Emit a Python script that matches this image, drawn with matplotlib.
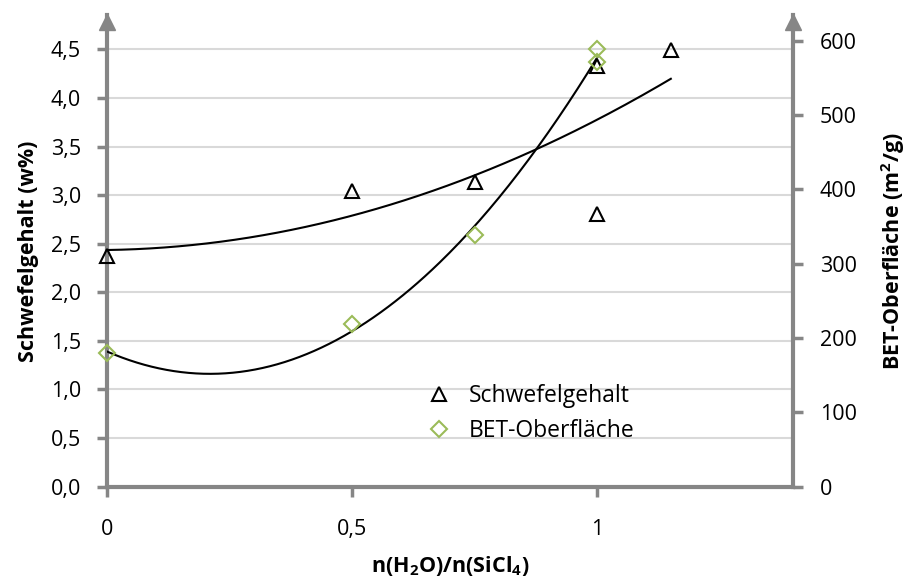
import numpy as np
import matplotlib
matplotlib.use("Agg")
from matplotlib import pyplot as plt
from matplotlib.ticker import FuncFormatter

plt.rcParams['font.family'] = ['Open Sans', 'DejaVu Sans']
plt.rcParams['mathtext.fontset'] = 'custom'
plt.rcParams['mathtext.rm'] = 'Open Sans'
plt.rcParams['mathtext.bf'] = 'Open Sans:bold'

# data
x_schwefel = [0, 0.5, 0.75, 1, 1, 1.15]
schwefel = [2.37, 3.04, 3.14, 2.81, 4.33, 4.49]
x_bet = [0, 0.5, 0.75, 1, 1]
bet = [180, 219, 338, 589, 571]

AXIS = '#868686'
GRID = '#d9d9d9'
GREEN = '#9bbb59'
FS = 15.5

fig = plt.figure(figsize=(9.05, 5.8), dpi=100)
ax = fig.add_axes([0.1186, 0.1609, 0.758, 0.8127])
ax2 = ax.twinx()

# trendlines (2nd order polynomial, like Excel)
p1 = np.polyfit(x_schwefel, schwefel, 2)
xs1 = np.linspace(0, max(x_schwefel), 200)
ax.plot(xs1, np.polyval(p1, xs1), color='black', lw=1.5, zorder=3)
p2 = np.polyfit(x_bet, bet, 2)
xs2 = np.linspace(0, max(x_bet), 200)
ax2.plot(xs2, np.polyval(p2, xs2), color='black', lw=1.5, zorder=3)

ax.plot(x_schwefel, schwefel, ls='none', marker='^', ms=10, mfc='none',
        mec='black', mew=1.5, label='Schwefelgehalt', clip_on=False, zorder=4)
ax2.plot(x_bet, bet, ls='none', marker='D', ms=8.5, mfc='none',
         mec=GREEN, mew=1.5, label='BET-Oberfläche', clip_on=False, zorder=4)

ax.set_xlim(0, 1.4)
ax.set_ylim(0, 4.85)
ax2.set_ylim(0, 634)
ax.set_xticks([0, 0.5, 1])
ax.set_yticks(np.arange(0, 4.51, 0.5))
ax2.set_yticks(np.arange(0, 601, 100))
comma = lambda v, pos: ('%g' % v).replace('.', ',')
ax.xaxis.set_major_formatter(FuncFormatter(comma))
ax.yaxis.set_major_formatter(FuncFormatter(lambda v, pos: ('%.1f' % v).replace('.', ',')))

ax.grid(axis='y', color=GRID, lw=1.5)
ax.set_axisbelow(True)

for a in (ax, ax2):
    for s in a.spines.values():
        s.set_visible(False)
ax.spines['left'].set_visible(True)
ax.spines['bottom'].set_visible(True)
ax2.spines['right'].set_visible(True)
for s in (ax.spines['left'], ax.spines['bottom'], ax2.spines['right']):
    s.set_color(AXIS)
    s.set_linewidth(3)

ax.tick_params(axis='y', direction='out', length=7, width=2.5, color=AXIS,
               labelsize=FS, pad=12)
ax.tick_params(axis='x', direction='out', length=7, width=2.5, color=AXIS,
               labelsize=FS, pad=16)
ax2.tick_params(axis='y', direction='out', length=7, width=2.5, color=AXIS,
                labelsize=FS, pad=12)

# arrow heads at top of the y axes
ax.plot(0, 0.985, marker='^', ms=11, color=AXIS, transform=ax.transAxes, clip_on=False)
ax.plot(1, 0.985, marker='^', ms=11, color=AXIS, transform=ax.transAxes, clip_on=False)

ax.set_ylabel('Schwefelgehalt (w%)', fontsize=FS, fontweight='bold', labelpad=8)
ax2.set_ylabel(r'BET-Oberfläche (m$^\mathbf{2}$/g)', fontsize=FS, fontweight='bold', labelpad=16)
ax.set_xlabel(r'n(H$_\mathbf{2}$O)/n(SiCl$_\mathbf{4}$)', fontsize=FS, fontweight='bold', labelpad=10)

h1, l1 = ax.get_legend_handles_labels()
h2, l2 = ax2.get_legend_handles_labels()
fig.legend(h1 + h2, l1 + l2, loc='upper left', bbox_to_anchor=(414 / 905, 1 - 373 / 580),
           frameon=False, fontsize=16.5, handlelength=1.2, handletextpad=0.7,
           labelspacing=0.45, borderpad=0)

fig.savefig('out.png', dpi=100)
